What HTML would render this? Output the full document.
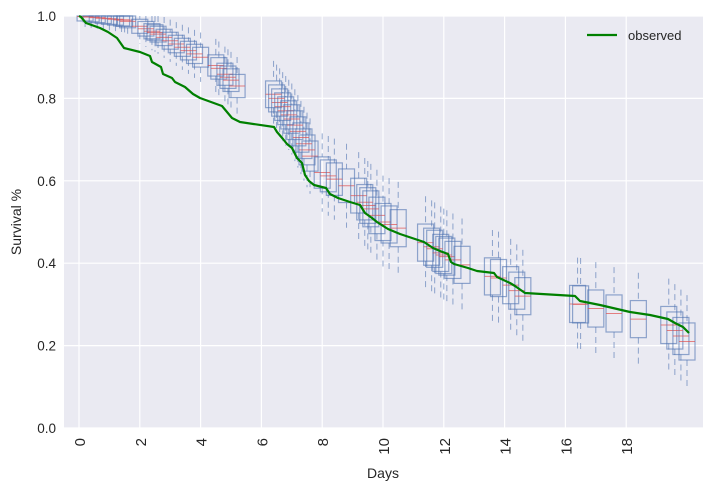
<!DOCTYPE html>
<html><head><meta charset="utf-8"><style>
body{margin:0;background:#fff;}
svg{display:block;font-family:"Liberation Sans",sans-serif;}
</style></head><body>
<svg id="s" width="713" height="492" xmlns="http://www.w3.org/2000/svg">
<rect x="64" y="16" width="639" height="412" fill="#eaeaf2"/>
<g id="grid" stroke="#fff" stroke-width="1.2"></g>
<g id="boxes"></g>
<polyline id="obs" fill="none" stroke="#008000" stroke-width="2.2" stroke-linejoin="round"/>
<g id="labels" fill="#262626"></g>
<line x1="587" y1="35" x2="617" y2="35" stroke="#008000" stroke-width="2.2"/>
<text x="628" y="40" font-size="13" fill="#262626">observed</text>
<text x="383" y="478" font-size="14" fill="#262626" text-anchor="middle">Days</text>
<text x="21" y="222" font-size="14" fill="#262626" text-anchor="middle" transform="rotate(-90 21 222)">Survival %</text>
</svg>
<script>
const NS="http://www.w3.org/2000/svg";
const X=d=>79+30.4*d, Y=v=>428-412*v;
function el(p,t,a){const e=document.createElementNS(NS,t);for(const k in a)e.setAttribute(k,a[k]);p.appendChild(e);return e;}
const g=document.getElementById('grid'),lb=document.getElementById('labels');
for(let d=0;d<=18;d+=2){el(g,'line',{x1:X(d),x2:X(d),y1:16,y2:428});
 const t=el(lb,'text',{x:0,y:0,'font-size':15,'text-anchor':'end',transform:`translate(${X(d)+6},438) rotate(-90)`});t.textContent=d;}
for(let i=0;i<=5;i++){const v=i*0.2;el(g,'line',{x1:64,x2:703,y1:Y(v),y2:Y(v)});
 const t=el(lb,'text',{x:56,y:Y(v)+5,'font-size':13.5,'text-anchor':'end'});t.textContent=v.toFixed(1);}
const med=[[0,1],[1.5,0.99],[2.5,0.96],[3.5,0.92],[4.5,0.88],[5.2,0.83],[6.4,0.81],[7,0.75],[7.6,0.66],[8,0.62],[9,0.58],[10,0.5],[11,0.47],[12,0.42],[13,0.38],[14,0.36],[14.6,0.32],[16.5,0.3],[18,0.27],[19.4,0.25],[20,0.21]];
function m(d){for(let i=1;i<med.length;i++)if(d<=med[i][0]){const[a,b]=med[i-1],[c,e]=med[i];return b+(e-b)*(d-a)/(c-a);}return 0.21;}
const days=[0.2,0.4,0.6,0.8,1.0,1.2,1.4,1.5,1.6,2.0,2.2,2.4,2.5,2.6,2.8,3.0,3.2,3.4,3.6,3.8,4.0,4.5,4.6,4.8,4.9,5.0,5.2,6.4,6.5,6.6,6.7,6.8,6.9,7.0,7.1,7.2,7.3,7.4,7.5,7.6,8.0,8.2,8.4,8.8,9.2,9.4,9.5,9.6,9.8,10.0,10.2,10.5,11.4,11.6,11.7,11.9,12.0,12.1,12.3,12.6,13.6,13.8,14.2,14.4,14.6,16.4,16.5,17.0,17.6,18.4,19.4,19.6,19.8,20.0];
const bg=document.getElementById('boxes');
days.forEach(d=>{const v=m(d);const cx=X(d);const h=Math.min(0.045,0.01+d*0.0035);
 const top=Math.min(1,v+h),bot=v-h;
 el(bg,'line',{x1:cx,x2:cx,y1:Y(Math.min(1,v+h*2.5)),y2:Y(top),stroke:'#4c72b0','stroke-opacity':0.6,'stroke-dasharray':'6,4'});
 el(bg,'line',{x1:cx,x2:cx,y1:Y(bot),y2:Y(v-h*2.5),stroke:'#4c72b0','stroke-opacity':0.6,'stroke-dasharray':'6,4'});
 el(bg,'rect',{x:cx-8,y:Y(top),width:16,height:Y(bot)-Y(top),fill:'none',stroke:'#4c72b0','stroke-opacity':0.6,'stroke-width':1.2});
 el(bg,'line',{x1:cx-8,x2:cx+8,y1:Y(v),y2:Y(v),stroke:'#e05050','stroke-opacity':0.7});
});
const pts=[[79,16],[81,17],[86,23],[100,28],[108,32],[117,38],[124,48],[140,52],[150,56],[152,62],[161,67],[163,74],[172,78],[175,82],[185,87],[193,94],[200,98],[211,102],[222,106],[227,112],[232,118],[240,122],[274,127],[277,132],[283,139],[287,144],[292,148],[297,158],[302,163],[305,175],[309,181],[314,185],[326,188],[330,194],[338,198],[350,202],[360,205],[365,213],[372,218],[377,222],[388,229],[400,234],[424,242],[433,248],[440,251],[448,254],[451,262],[454,264],[468,268],[477,271],[494,273],[497,277],[510,283],[515,286],[525,293],[575,296],[580,301],[600,305],[630,312],[650,315],[668,319],[675,323],[683,327],[689,333]];
document.getElementById('obs').setAttribute('points',pts.map(p=>p.join(',')).join(' '));
</script>
</body></html>
